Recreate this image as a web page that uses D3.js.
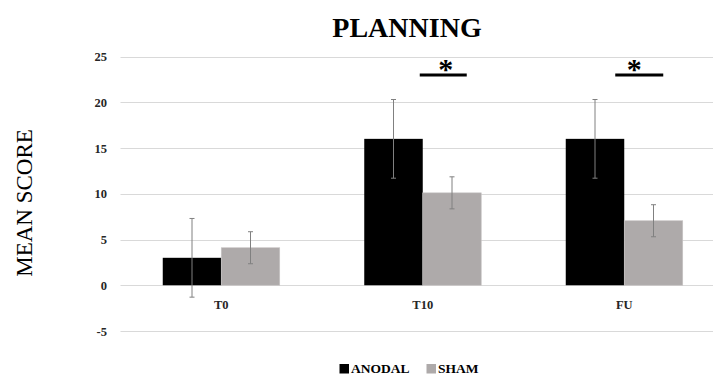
<!DOCTYPE html>
<html>
<head>
<meta charset="utf-8">
<script src="https://cdn.jsdelivr.net/npm/d3@7/dist/d3.min.js"></script>
<style>
  html, body { margin: 0; padding: 0; background: #fff; }
  svg { display: block; }
  text { font-family: "Liberation Serif", "Times New Roman", serif; }
</style>
</head>
<body>
<svg id="chart" width="713" height="374"></svg>
<script>
// ---- data ----
const categories = ["T0", "T10", "FU"];
const seriesNames = ["ANODAL", "SHAM"];
const anodalMeans = [3.0, 16.0, 16.0];
const anodalErrors = [4.3, 4.3, 4.3];
const shamMeans = [4.1, 10.1, 7.05];
const shamErrors = [1.75, 1.75, 1.75];
const yTicks = [-5, 0, 5, 10, 15, 20, 25];
const significant = ["T10", "FU"];
const titleText = "PLANNING";
const yAxisTitle = "MEAN SCORE";

const colors = { ANODAL: "#000000", SHAM: "#aeaaaa" };

const svg = d3.select("#chart");
const W = 713, H = 374;

const y = d3.scaleLinear().domain([-5, 25]).range([331, 56.5]);
const x = d3.scaleBand().domain(categories).range([120.5, 725]).paddingInner(0).paddingOuter(0);
const barW = 58.5;
const xs = d3.scaleBand().domain(seriesNames)
  .range([x.bandwidth() / 2 - barW, x.bandwidth() / 2 + barW]).padding(0);

const rows = categories.map((c, i) => ({
  cat: c,
  values: [
    { s: "ANODAL", v: anodalMeans[i], e: anodalErrors[i] },
    { s: "SHAM", v: shamMeans[i], e: shamErrors[i] }
  ]
}));

// y tick labels
const yAxis = d3.axisLeft(y).tickValues(yTicks).tickSize(0).tickPadding(0)
  .tickFormat(d => String(d));
const gAxis = svg.append("g").attr("transform", "translate(107,0)").call(yAxis);
gAxis.select(".domain").remove();
gAxis.selectAll("text")
  .attr("font-family", "Liberation Serif, serif")
  .attr("font-weight", "bold")
  .attr("font-size", 12.5)
  .attr("fill", "#262626");

// gridlines
svg.append("g").selectAll("line").data(yTicks).join("line")
  .attr("x1", 120.5).attr("x2", W)
  .attr("y1", d => Math.round(y(d)) + 0.5).attr("y2", d => Math.round(y(d)) + 0.5)
  .attr("stroke", "#d9d9d9").attr("stroke-width", 1);

// bars
const groups = svg.append("g").selectAll("g").data(rows).join("g")
  .attr("transform", d => `translate(${x(d.cat)},0)`);

groups.selectAll("rect").data(d => d.values).join("rect")
  .attr("x", d => xs(d.s))
  .attr("width", xs.bandwidth())
  .attr("y", d => y(Math.max(0, d.v)))
  .attr("height", d => Math.abs(y(d.v) - y(0)))
  .attr("fill", d => colors[d.s])
  .attr("stroke", d => d.s === "SHAM" ? "#c8c5c5" : "none")
  .attr("stroke-width", 0.6);

// error bars
const eb = groups.selectAll("g.err").data(d => d.values).join("g").attr("class", "err")
  .attr("transform", d => `translate(${xs(d.s) + xs.bandwidth() / 2},0)`);
eb.append("line")
  .attr("x1", 0).attr("x2", 0)
  .attr("y1", d => y(d.v + d.e)).attr("y2", d => y(d.v - d.e))
  .attr("stroke", "#808080").attr("stroke-width", 1);
eb.append("line")
  .attr("x1", -2.5).attr("x2", 2.5)
  .attr("y1", d => y(d.v + d.e)).attr("y2", d => y(d.v + d.e))
  .attr("stroke", "#808080").attr("stroke-width", 1);
eb.append("line")
  .attr("x1", -2.5).attr("x2", 2.5)
  .attr("y1", d => y(d.v - d.e)).attr("y2", d => y(d.v - d.e))
  .attr("stroke", "#808080").attr("stroke-width", 1);

// category labels
const xAxis = d3.axisBottom(x).tickSize(0).tickPadding(0);
const gx = svg.append("g").attr("transform", "translate(0,0)").call(xAxis);
gx.select(".domain").remove();
gx.selectAll("text")
  .attr("y", 309).attr("dy", null)
  .attr("font-family", "Liberation Serif, serif")
  .attr("font-weight", "bold")
  .attr("font-size", 12.5)
  .attr("fill", "#262626");

// significance markers (hand-placed annotations relative to category centre)
const sigLayout = { T10: { x1: -3, x2: 44, star: 23 }, FU: { x1: -9, x2: 39, star: 10 } };
const sig = svg.append("g").selectAll("g").data(significant).join("g")
  .attr("transform", d => `translate(${x(d) + x.bandwidth() / 2},0)`);
sig.append("line")
  .attr("x1", d => sigLayout[d].x1).attr("x2", d => sigLayout[d].x2)
  .attr("y1", 75).attr("y2", 75)
  .attr("stroke", "#000").attr("stroke-width", 3);
sig.append("text")
  .attr("x", d => sigLayout[d].star).attr("y", 79)
  .attr("text-anchor", "middle")
  .attr("font-size", 30).attr("font-weight", "bold")
  .text("*");

// title
svg.append("text")
  .attr("x", 407).attr("y", 37)
  .attr("text-anchor", "middle")
  .attr("font-size", 28).attr("font-weight", "bold")
  .attr("fill", "#000")
  .text(titleText);

// y-axis title
svg.append("text")
  .attr("transform", "translate(32,203) rotate(-90)")
  .attr("text-anchor", "middle")
  .attr("font-size", 23)
  .attr("fill", "#000")
  .text(yAxisTitle);

// legend
const legendX = [339.5, 426.5];
const lg = svg.append("g").selectAll("g").data(seriesNames).join("g")
  .attr("transform", (d, i) => `translate(${legendX[i]},0)`);
lg.append("rect").attr("x", 0).attr("y", 364).attr("width", 9.5).attr("height", 9.5)
  .attr("fill", d => colors[d]);
lg.append("text").attr("x", 11.5).attr("y", 372.5)
  .attr("font-size", 13.5).attr("font-weight", "bold").attr("fill", "#000")
  .text(d => d);
</script>
</body>
</html>
